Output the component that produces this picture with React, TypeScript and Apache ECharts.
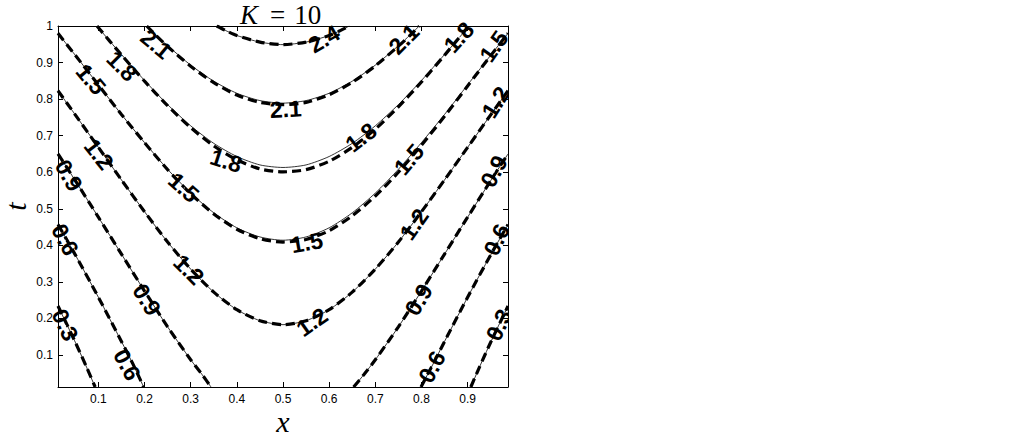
import React, { useEffect, useRef } from "react";
import * as echarts from "echarts";

// ---- axis ticks ----
const xTickValues = [0.1, 0.2, 0.3, 0.4, 0.5, 0.6, 0.7, 0.8, 0.9];
const tTickValues = [0.1, 0.2, 0.3, 0.4, 0.5, 0.6, 0.7, 0.8, 0.9, 1];
const xRange = [0.0125, 0.9875];
const tRange = [0.0125, 1];

// ---- contour lines [x, t] ----
// exact solution (thin solid)
const exactLevel03Left: [number, number][] = [[0.0125, 0.234], [0.05, 0.135], [0.075, 0.065], [0.093, 0.0125]];
const exactLevel03Right: [number, number][] = [[0.907, 0.0125], [0.925, 0.065], [0.95, 0.135], [0.9875, 0.234]];
const exactLevel06Left: [number, number][] = [[0.0125, 0.457], [0.05, 0.374], [0.1, 0.258], [0.15, 0.137], [0.175, 0.075], [0.198, 0.0125]];
const exactLevel06Right: [number, number][] = [[0.799, 0.0125], [0.825, 0.075], [0.85, 0.137], [0.9, 0.258], [0.95, 0.374], [0.9875, 0.457]];
const exactLevel09Left: [number, number][] = [[0.0125, 0.65], [0.05, 0.577], [0.1, 0.477], [0.15, 0.376], [0.2, 0.275], [0.25, 0.177], [0.3, 0.087], [0.325, 0.046], [0.344, 0.0125]];
const exactLevel09Right: [number, number][] = [[0.653, 0.0125], [0.675, 0.046], [0.7, 0.087], [0.75, 0.177], [0.8, 0.275], [0.85, 0.376], [0.9, 0.477], [0.95, 0.577], [0.9875, 0.65]];
const exactLevel12: [number, number][] = [[0.0125, 0.823], [0.05, 0.757], [0.1, 0.668], [0.15, 0.579], [0.2, 0.492], [0.25, 0.409], [0.3, 0.335], [0.35, 0.272], [0.4, 0.224], [0.45, 0.194], [0.5, 0.183], [0.55, 0.194], [0.6, 0.224], [0.65, 0.272], [0.7, 0.335], [0.75, 0.409], [0.8, 0.492], [0.85, 0.579], [0.9, 0.668], [0.95, 0.757], [0.9875, 0.823]];
const exactLevel15: [number, number][] = [[0.0125, 0.98], [0.05, 0.92], [0.1, 0.839], [0.15, 0.758], [0.2, 0.681], [0.25, 0.608], [0.3, 0.543], [0.35, 0.489], [0.4, 0.448], [0.45, 0.423], [0.5, 0.414], [0.55, 0.423], [0.6, 0.448], [0.65, 0.489], [0.7, 0.543], [0.75, 0.608], [0.8, 0.681], [0.85, 0.758], [0.9, 0.839], [0.95, 0.92], [0.9875, 0.98]];
const exactLevel18: [number, number][] = [[0.097, 1.0], [0.125, 0.958], [0.15, 0.922], [0.2, 0.851], [0.25, 0.785], [0.3, 0.727], [0.35, 0.679], [0.4, 0.643], [0.45, 0.62], [0.5, 0.613], [0.55, 0.62], [0.6, 0.643], [0.65, 0.679], [0.7, 0.727], [0.75, 0.785], [0.8, 0.851], [0.85, 0.922], [0.875, 0.958], [0.903, 1.0]];
const exactLevel21: [number, number][] = [[0.2048, 1.0], [0.225, 0.975], [0.25, 0.946], [0.3, 0.893], [0.35, 0.849], [0.4, 0.816], [0.45, 0.796], [0.5, 0.789], [0.55, 0.796], [0.6, 0.816], [0.65, 0.849], [0.7, 0.893], [0.75, 0.946], [0.775, 0.975], [0.7952, 1.0]];
const exactLevel24: [number, number][] = [[0.3564, 1.0], [0.375, 0.988], [0.4, 0.974], [0.45, 0.956], [0.5, 0.949], [0.55, 0.956], [0.6, 0.974], [0.625, 0.988], [0.6436, 1.0]];

// approximate solution (thick dashed) where it departs from the exact one
const approxLevel15: [number, number][] = [[0.0125, 0.98], [0.05, 0.92], [0.1, 0.839], [0.15, 0.758], [0.2, 0.681], [0.25, 0.607], [0.3, 0.541], [0.35, 0.486], [0.4, 0.444], [0.45, 0.418], [0.5, 0.409], [0.55, 0.416], [0.6, 0.44], [0.65, 0.481], [0.7, 0.535], [0.75, 0.6], [0.8, 0.674], [0.85, 0.753], [0.9, 0.836], [0.95, 0.919], [0.9875, 0.98]];
const approxLevel18: [number, number][] = [[0.097, 1.0], [0.125, 0.958], [0.15, 0.921], [0.2, 0.849], [0.25, 0.782], [0.3, 0.722], [0.35, 0.672], [0.4, 0.634], [0.45, 0.609], [0.5, 0.601], [0.55, 0.607], [0.6, 0.63], [0.65, 0.668], [0.7, 0.718], [0.75, 0.779], [0.8, 0.847], [0.85, 0.92], [0.875, 0.958], [0.903, 1.0]];
const approxLevel21: [number, number][] = [[0.2048, 1.0], [0.225, 0.974], [0.25, 0.944], [0.3, 0.89], [0.35, 0.845], [0.4, 0.811], [0.45, 0.791], [0.5, 0.785], [0.55, 0.791], [0.6, 0.812], [0.65, 0.846], [0.7, 0.891], [0.75, 0.945], [0.775, 0.974], [0.7952, 1.0]];

const exactLines = [exactLevel03Left, exactLevel03Right, exactLevel06Left, exactLevel06Right, exactLevel09Left, exactLevel09Right, exactLevel12, exactLevel15, exactLevel18, exactLevel21, exactLevel24];
const approxLines = [exactLevel03Left, exactLevel03Right, exactLevel06Left, exactLevel06Right, exactLevel09Left, exactLevel09Right, exactLevel12, approxLevel15, approxLevel18, approxLevel21, exactLevel24];

// ---- contour labels: text, x, t, angle ----
const contourLabels: [string, number, number, number][] = [
  ["2.4", 0.59, 0.963, 30],
  ["2.1", 0.507, 0.771, 3],
  ["2.1", 0.226, 0.949, -40],
  ["1.8", 0.152, 0.889, -45],
  ["1.5", 0.085, 0.853, -50],
  ["1.2", 0.102, 0.648, -52],
  ["0.9", 0.037, 0.59, -60],
  ["0.6", 0.029, 0.414, -62],
  ["0.3", 0.029, 0.181, -65],
  ["1.5", 0.286, 0.557, -42],
  ["1.8", 0.378, 0.63, -18],
  ["1.2", 0.297, 0.332, -45],
  ["0.9", 0.206, 0.25, -58],
  ["0.6", 0.163, 0.072, -62],
  ["1.5", 0.553, 0.406, 10],
  ["1.2", 0.564, 0.189, 35],
  ["1.8", 0.67, 0.694, 38],
  ["1.5", 0.774, 0.634, 50],
  ["1.2", 0.785, 0.456, 55],
  ["0.9", 0.795, 0.25, 60],
  ["0.6", 0.824, 0.066, 62],
  ["2.1", 0.763, 0.963, 45],
  ["1.8", 0.882, 0.968, 48],
  ["1.5", 0.958, 0.943, 55],
  ["1.2", 0.962, 0.79, 58],
  ["0.9", 0.958, 0.601, 62],
  ["0.6", 0.964, 0.414, 65],
  ["0.3", 0.969, 0.181, 65],
];

const titleMain = "K";
const titleRest = "10";

export default function App() {
  const ref = useRef<HTMLDivElement>(null);
  useEffect(() => {
    if (!ref.current) return;
    const chart = echarts.init(ref.current, null, { renderer: "svg" });
    const axisBase = {
      type: "value" as const,
      axisLine: { show: true, onZero: false, lineStyle: { color: "#000", width: 1 } },
      splitLine: { show: false },
    };
    const labelStyle = {
      show: true, position: [0, 0], align: "center", verticalAlign: "middle",
      color: "#000", fontFamily: "Liberation Sans", fontSize: 23, fontWeight: "bold",
      textBorderWidth: 0, opacity: 1,
    };
    const series: any[] = [];
    exactLines.forEach((d) => {
      series.push({
        type: "line", data: d, showSymbol: false, smooth: 0.25, silent: true, z: 3,
        lineStyle: { color: "#000", width: 0.8, type: "solid" },
      });
    });
    approxLines.forEach((d) => {
      series.push({
        type: "line", data: d, showSymbol: false, smooth: 0.25, silent: true, z: 4,
        lineStyle: { color: "#000", width: 3.2, type: [9, 5], cap: "butt" },
      });
    });
    series.push({
      type: "scatter", silent: true, z: 6, symbolSize: 1,
      itemStyle: { color: "#fff", opacity: 1 },
      data: contourLabels.map(([txt, x, t, a]) => ({
        value: [x, t],
        label: { ...labelStyle, formatter: txt, rotate: a },
      })),
      label: labelStyle,
    });
    const titleFont = { fontFamily: "Liberation Serif", fontSize: 27, color: "#000", fontWeight: "normal" };
    chart.setOption({
      animation: false,
      backgroundColor: "#fff",
      title: {
        text: `{k|${titleMain}}{e|=}{n|${titleRest}}`,
        left: 235, top: -4,
        textStyle: {
          fontWeight: "normal",
          rich: {
            k: { ...titleFont, fontStyle: "italic" },
            e: { ...titleFont, padding: [0, 9, 0, 12] },
            n: { ...titleFont },
          },
        },
      },
      grid: { left: 58, top: 26, right: 516, bottom: 50, show: false, containLabel: false, outerBoundsMode: "none" },
      xAxis: [
        {
          ...axisBase, position: "bottom", min: xRange[0], max: xRange[1],
          name: "x", nameLocation: "middle", nameGap: 22, nameMoveOverlap: false,
          nameTextStyle: { fontFamily: "Liberation Serif", fontStyle: "italic", fontSize: 30, color: "#000", lineHeight: 24 },
          axisTick: { show: true, inside: true, length: 5, customValues: xTickValues, lineStyle: { color: "#000" } },
          axisLabel: { show: true, customValues: xTickValues, margin: 6, color: "#000", fontFamily: "Liberation Sans", fontSize: 12, fontWeight: "normal", lineHeight: 12 },
        },
        {
          ...axisBase, position: "top", min: xRange[0], max: xRange[1],
          axisTick: { show: true, inside: true, length: 5, customValues: xTickValues, lineStyle: { color: "#000" } },
          axisLabel: { show: false },
        },
      ],
      yAxis: [
        {
          ...axisBase, position: "left", min: tRange[0], max: tRange[1],
          name: "t", nameLocation: "middle", nameGap: 28, nameRotate: 90,
          nameTextStyle: { fontFamily: "Liberation Serif", fontStyle: "italic", fontSize: 30, color: "#000", lineHeight: 30 },
          axisTick: { show: true, inside: true, length: 5, customValues: tTickValues, lineStyle: { color: "#000" } },
          axisLabel: { show: true, customValues: tTickValues, margin: 5, color: "#000", fontFamily: "Liberation Sans", fontSize: 12, fontWeight: "normal" },
        },
        {
          ...axisBase, position: "right", min: tRange[0], max: tRange[1], z: 20,
          axisTick: { show: true, inside: true, length: 5, customValues: tTickValues, lineStyle: { color: "#000" } },
          axisLabel: { show: false },
        },
      ],
      graphic: [
        { type: "rect", z: 10, shape: { x: 509, y: 0, width: 60, height: 437 }, style: { fill: "#fff" } },
      ],
      series,
    });
    return () => chart.dispose();
  }, []);
  return <div ref={ref} style={{ position: "fixed", left: 0, top: 0, width: 1024, height: 437 }} />;
}
